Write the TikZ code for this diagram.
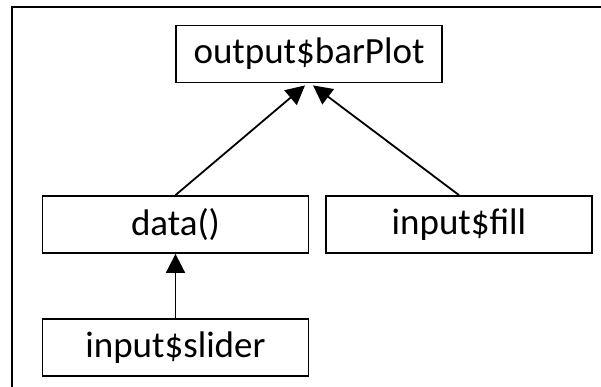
\documentclass[tikz,border=0pt]{standalone}
\usepackage{fontspec}
\setmainfont{Carlito}
\usetikzlibrary{arrows.meta}
\begin{document}
\begin{tikzpicture}[x=1pt,y=-1pt,
  box/.style={draw, line width=1.8pt, minimum width=266pt, minimum height=57pt,
    inner sep=0pt, font=\fontsize{37}{40}\selectfont},
  link/.style={line width=1.8pt, -{Triangle[length=19pt,width=19pt]}}]
  \useasboundingbox (0,0) rectangle (601,386);
  \clip (0,0) rectangle (601,386);
  % outer frame, open towards the right and bottom
  \draw[line width=2.8pt] (12,392) -- (12,7) -- (608,7);
  \node[box] (out) at (309,54) {output\$barPlot};
  \node[box] (data) at (175.5,224.5) {data()};
  \node[box] (fill) at (459,224.5) {input\$fill};
  \node[box] (slider) at (175.5,347.5) {input\$slider};
  \coordinate (tipL) at ([xshift=-4pt,yshift=-2pt]out.south);
  \coordinate (tipR) at ([xshift=4pt,yshift=-2pt]out.south);
  \draw[link] (data.north) -- (tipL);
  \draw[link] (fill.north) -- (tipR);
  \draw[link] (slider.north) -- (data.south);
\end{tikzpicture}
\end{document}
